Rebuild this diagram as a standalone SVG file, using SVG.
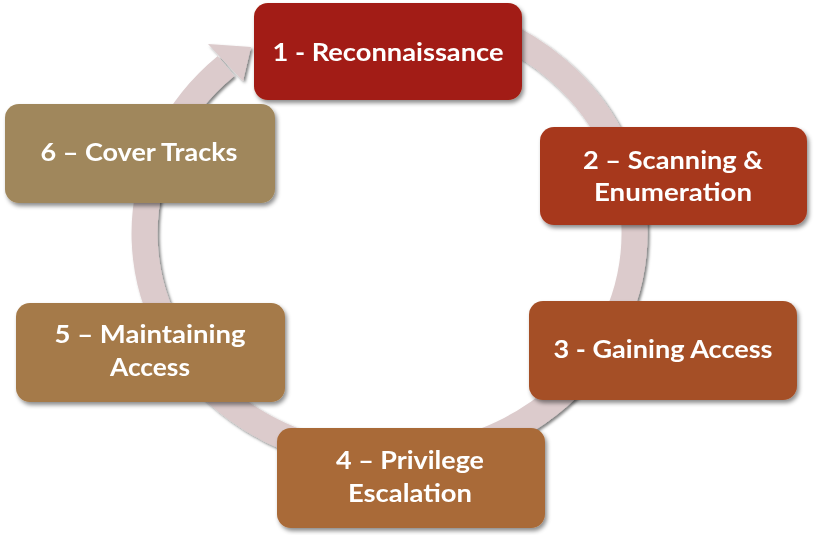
<svg xmlns="http://www.w3.org/2000/svg" width="816" height="535" viewBox="0 0 816 535">
<defs>
<filter id="sh" x="-10%" y="-10%" width="130%" height="130%">
<feDropShadow dx="2" dy="3" stdDeviation="2" flood-color="#000" flood-opacity="0.45"/>
</filter>
<filter id="rsh" x="-10%" y="-10%" width="130%" height="130%">
<feDropShadow dx="2" dy="2" stdDeviation="1.5" flood-color="#000" flood-opacity="0.5"/>
</filter>
<style>
.box{stroke:none}
.t{font-family:Lato,"Open Sans","Liberation Sans",sans-serif;font-weight:bold;font-size:24px;fill:#fff;text-anchor:middle}
.ring{fill:none;stroke:#dccbcc;stroke-width:26}
</style>
</defs>
<rect width="816" height="535" fill="#fff"/>
<g id="connectors" filter="url(#rsh)">
<path class="ring" d="M470,21 A245,225 0 1 1 226,66"/>
<polygon points="208,44 251,47 243,81" fill="#dccbcc"/>
</g>
<g id="n1" filter="url(#sh)">
<rect class="box" x="254" y="3" width="268" height="97" rx="14" fill="#a21d12"/>
<text class="t" x="388" y="61" textLength="231" lengthAdjust="spacingAndGlyphs">1 - Reconnaissance</text>
</g>
<g id="n2" filter="url(#sh)">
<rect class="box" x="540" y="127" width="267" height="98" rx="14" fill="#a7391f"/>
<text class="t" x="673" y="169" textLength="180" lengthAdjust="spacingAndGlyphs">2 – Scanning &amp;</text>
<text class="t" x="673" y="201" textLength="158" lengthAdjust="spacingAndGlyphs">Enumeration</text>
</g>
<g id="n3" filter="url(#sh)">
<rect class="box" x="529" y="301" width="268" height="99" rx="14" fill="#a55027"/>
<text class="t" x="663" y="358" textLength="219" lengthAdjust="spacingAndGlyphs">3 - Gaining Access</text>
</g>
<g id="n4" filter="url(#sh)">
<rect class="box" x="277" y="428" width="268" height="100" rx="14" fill="#a96a37"/>
<text class="t" x="410" y="469" textLength="148" lengthAdjust="spacingAndGlyphs">4 – Privilege</text>
<text class="t" x="410" y="502" textLength="124" lengthAdjust="spacingAndGlyphs">Escalation</text>
</g>
<g id="n5" filter="url(#sh)">
<rect class="box" x="16" y="303" width="269" height="99" rx="14" fill="#a57a48"/>
<text class="t" x="150" y="343" textLength="191" lengthAdjust="spacingAndGlyphs">5 – Maintaining</text>
<text class="t" x="150" y="376" textLength="80" lengthAdjust="spacingAndGlyphs">Access</text>
</g>
<g id="n6" filter="url(#sh)">
<rect class="box" x="5" y="104" width="270" height="99" rx="14" fill="#a0875b"/>
<text class="t" x="139" y="161" textLength="197" lengthAdjust="spacingAndGlyphs">6 – Cover Tracks</text>
</g>
</svg>
